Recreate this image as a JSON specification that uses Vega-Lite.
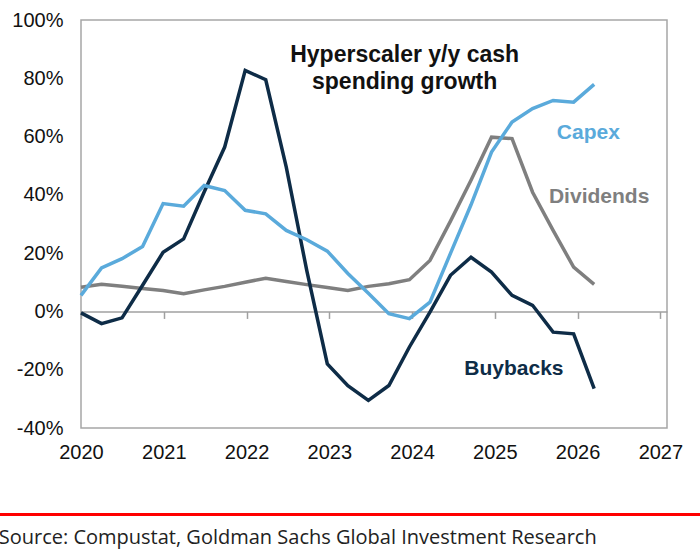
{
  "$schema": "https://vega.github.io/schema/vega-lite/v6.json",
  "width": 586,
  "height": 408,
  "autosize": "none",
  "padding": {"left": 81, "top": 20, "right": 33, "bottom": 130},
  "background": "white",
  "config": {
    "view": {"stroke": "#a6a6a6", "strokeWidth": 1.5},
    "font": "Liberation Sans"
  },
  "title": {
    "text": "Source: Compustat, Goldman Sachs Global Investment Research",
    "orient": "bottom",
    "anchor": "start",
    "frame": "bounds",
    "font": "Open Sans",
    "fontSize": 20,
    "fontWeight": "normal",
    "color": "#222222",
    "offset": 12,
    "dx": 2
  },
  "datasets": {
    "growth": [
      {"t": 2020.000, "series": "Dividends", "value": 8.3},
      {"t": 2020.248, "series": "Dividends", "value": 9.3},
      {"t": 2020.496, "series": "Dividends", "value": 8.6},
      {"t": 2020.744, "series": "Dividends", "value": 7.9},
      {"t": 2020.992, "series": "Dividends", "value": 7.2},
      {"t": 2021.240, "series": "Dividends", "value": 6.1},
      {"t": 2021.488, "series": "Dividends", "value": 7.4},
      {"t": 2021.736, "series": "Dividends", "value": 8.6},
      {"t": 2021.984, "series": "Dividends", "value": 10.0},
      {"t": 2022.232, "series": "Dividends", "value": 11.4},
      {"t": 2022.480, "series": "Dividends", "value": 10.3},
      {"t": 2022.728, "series": "Dividends", "value": 9.2},
      {"t": 2022.976, "series": "Dividends", "value": 8.2},
      {"t": 2023.224, "series": "Dividends", "value": 7.2},
      {"t": 2023.472, "series": "Dividends", "value": 8.6},
      {"t": 2023.720, "series": "Dividends", "value": 9.5},
      {"t": 2023.968, "series": "Dividends", "value": 10.9},
      {"t": 2024.216, "series": "Dividends", "value": 17.5},
      {"t": 2024.464, "series": "Dividends", "value": 31.0},
      {"t": 2024.712, "series": "Dividends", "value": 45.0},
      {"t": 2024.960, "series": "Dividends", "value": 59.8},
      {"t": 2025.208, "series": "Dividends", "value": 59.3},
      {"t": 2025.456, "series": "Dividends", "value": 40.9},
      {"t": 2025.704, "series": "Dividends", "value": 27.8},
      {"t": 2025.952, "series": "Dividends", "value": 15.2},
      {"t": 2026.200, "series": "Dividends", "value": 9.3},
      {"t": 2020.000, "series": "Buybacks", "value": -0.5},
      {"t": 2020.248, "series": "Buybacks", "value": -4.2},
      {"t": 2020.496, "series": "Buybacks", "value": -2.2},
      {"t": 2020.744, "series": "Buybacks", "value": 9.0},
      {"t": 2020.992, "series": "Buybacks", "value": 20.3},
      {"t": 2021.240, "series": "Buybacks", "value": 24.9},
      {"t": 2021.488, "series": "Buybacks", "value": 41.0},
      {"t": 2021.736, "series": "Buybacks", "value": 56.4},
      {"t": 2021.984, "series": "Buybacks", "value": 82.7},
      {"t": 2022.232, "series": "Buybacks", "value": 79.5},
      {"t": 2022.480, "series": "Buybacks", "value": 49.5},
      {"t": 2022.728, "series": "Buybacks", "value": 14.0},
      {"t": 2022.976, "series": "Buybacks", "value": -18.0},
      {"t": 2023.224, "series": "Buybacks", "value": -25.5},
      {"t": 2023.472, "series": "Buybacks", "value": -30.5},
      {"t": 2023.720, "series": "Buybacks", "value": -25.4},
      {"t": 2023.968, "series": "Buybacks", "value": -12.2},
      {"t": 2024.216, "series": "Buybacks", "value": -0.2},
      {"t": 2024.464, "series": "Buybacks", "value": 12.4},
      {"t": 2024.712, "series": "Buybacks", "value": 18.6},
      {"t": 2024.960, "series": "Buybacks", "value": 13.5},
      {"t": 2025.208, "series": "Buybacks", "value": 5.5},
      {"t": 2025.456, "series": "Buybacks", "value": 2.1},
      {"t": 2025.704, "series": "Buybacks", "value": -7.1},
      {"t": 2025.952, "series": "Buybacks", "value": -7.7},
      {"t": 2026.200, "series": "Buybacks", "value": -26.5},
      {"t": 2020.000, "series": "Capex", "value": 5.5},
      {"t": 2020.248, "series": "Capex", "value": 14.9},
      {"t": 2020.496, "series": "Capex", "value": 18.1},
      {"t": 2020.744, "series": "Capex", "value": 22.3},
      {"t": 2020.992, "series": "Capex", "value": 37.0},
      {"t": 2021.240, "series": "Capex", "value": 36.1},
      {"t": 2021.488, "series": "Capex", "value": 43.2},
      {"t": 2021.736, "series": "Capex", "value": 41.5},
      {"t": 2021.984, "series": "Capex", "value": 34.7},
      {"t": 2022.232, "series": "Capex", "value": 33.5},
      {"t": 2022.480, "series": "Capex", "value": 27.8},
      {"t": 2022.728, "series": "Capex", "value": 24.6},
      {"t": 2022.976, "series": "Capex", "value": 20.7},
      {"t": 2023.224, "series": "Capex", "value": 13.0},
      {"t": 2023.472, "series": "Capex", "value": 6.2},
      {"t": 2023.720, "series": "Capex", "value": -0.8},
      {"t": 2023.968, "series": "Capex", "value": -2.5},
      {"t": 2024.216, "series": "Capex", "value": 3.2},
      {"t": 2024.464, "series": "Capex", "value": 19.9},
      {"t": 2024.712, "series": "Capex", "value": 36.6},
      {"t": 2024.960, "series": "Capex", "value": 54.7},
      {"t": 2025.208, "series": "Capex", "value": 65.0},
      {"t": 2025.456, "series": "Capex", "value": 69.6},
      {"t": 2025.704, "series": "Capex", "value": 72.4},
      {"t": 2025.952, "series": "Capex", "value": 71.8},
      {"t": 2026.200, "series": "Capex", "value": 77.9}
    ],
    "labels": [
      {"t": 2026.13, "series": "Capex", "value": 59.0},
      {"t": 2026.26, "series": "Dividends", "value": 37.3},
      {"t": 2025.23, "series": "Buybacks", "value": -21.9}
    ]
  },
  "layer": [
    {
      "data": {"name": "growth"},
      "mark": {"type": "line", "strokeWidth": 3.5},
      "encoding": {
        "x": {
          "field": "t",
          "type": "quantitative",
          "scale": {"domain": [2020, 2027.08], "nice": false, "zero": false},
          "axis": {
            "orient": "bottom",
            "offset": -116.57,
            "values": [2020, 2021, 2022, 2023, 2024, 2025, 2026, 2027],
            "labelExpr": "format(datum.value, 'd')",
            "labelFontSize": 20,
            "labelColor": "#111111",
            "labelPadding": 124,
            "labelFlush": false,
            "ticks": true,
            "tickSize": 7,
            "tickColor": "#a0a0a0",
            "tickWidth": 1.5,
            "domain": true,
            "domainColor": "#a0a0a0",
            "domainWidth": 1.5,
            "grid": false,
            "title": null
          }
        },
        "y": {
          "field": "value",
          "type": "quantitative",
          "scale": {"domain": [-40, 100], "nice": false},
          "axis": {
            "values": [-40, -20, 0, 20, 40, 60, 80, 100],
            "labelExpr": "datum.value + '%'",
            "labelFontSize": 20,
            "labelColor": "#111111",
            "labelPadding": 18,
            "ticks": false,
            "domain": false,
            "grid": false,
            "title": null
          }
        },
        "color": {
          "field": "series",
          "type": "nominal",
          "scale": {
            "domain": ["Capex", "Dividends", "Buybacks"],
            "range": ["#5aaadb", "#7f7f7f", "#0e2c47"]
          },
          "legend": null
        },
        "detail": {"field": "series"}
      }
    },
    {
      "data": {"name": "labels"},
      "mark": {"type": "text", "fontSize": 21, "fontWeight": "bold", "align": "center", "baseline": "alphabetic"},
      "encoding": {
        "x": {"field": "t", "type": "quantitative", "axis": {"title": null}},
        "y": {"field": "value", "type": "quantitative", "axis": {"title": null}},
        "text": {"field": "series"},
        "color": {"field": "series", "type": "nominal", "legend": null}
      }
    },
    {
      "data": {"values": [{"note": "title"}]},
      "mark": {
        "type": "text",
        "text": ["Hyperscaler y/y cash", "spending growth"],
        "fontSize": 23,
        "fontWeight": "bold",
        "lineHeight": 27,
        "align": "center",
        "baseline": "alphabetic",
        "color": "#111111"
      },
      "encoding": {
        "x": {"datum": 2023.91, "type": "quantitative"},
        "y": {"datum": 85.7, "type": "quantitative"}
      }
    },
    {
      "data": {"values": [{"note": "separator"}]},
      "mark": {"type": "rule", "color": "red", "strokeWidth": 3},
      "encoding": {
        "x": {"datum": 2019.0, "type": "quantitative"},
        "x2": {"datum": 2027.48},
        "y": {"datum": -69.7, "type": "quantitative"}
      }
    }
  ]
}
